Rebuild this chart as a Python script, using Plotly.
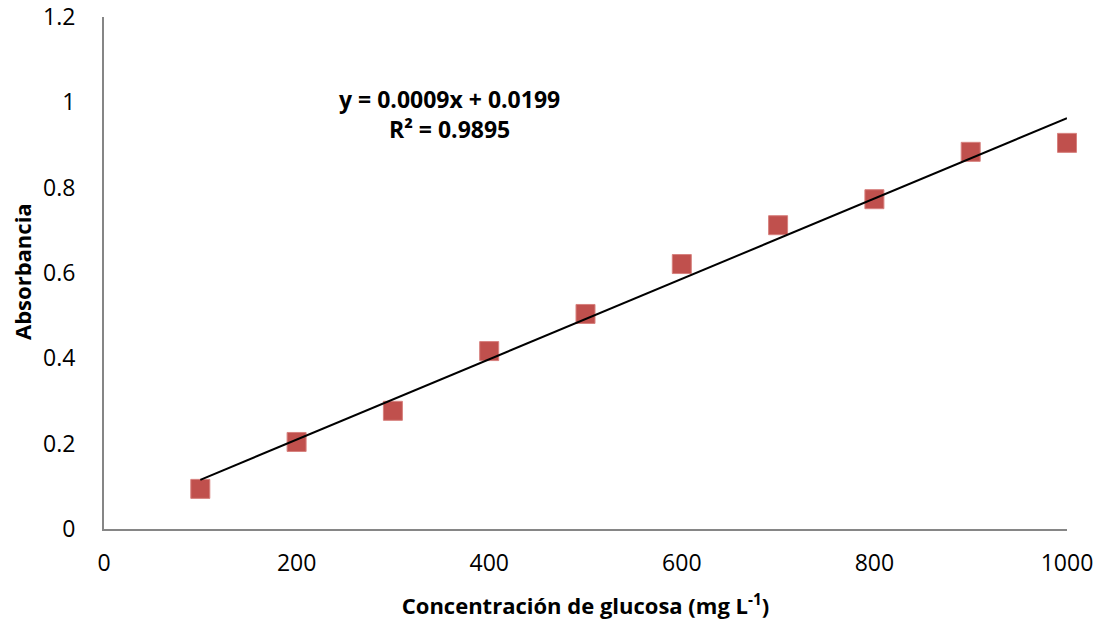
import numpy as np
import plotly.graph_objects as go

concentracion = [100, 200, 300, 400, 500, 600, 700, 800, 900, 1000]
absorbancia = [0.094, 0.204, 0.277, 0.417, 0.504, 0.621, 0.712, 0.773, 0.884, 0.905]
x_ticks = [0, 200, 400, 600, 800, 1000]
y_ticks = [0, 0.2, 0.4, 0.6, 0.8, 1, 1.2]
y_tick_labels = ["0", "0.2", "0.4", "0.6", "0.8", "1", "1.2"]
eq_text = "y = 0.0009x + 0.0199<br>R² = 0.9895"
y_title = "Absorbancia"
x_title = "Concentración de glucosa (mg L<sup>-1</sup>)"

slope, intercept = np.polyfit(concentracion, absorbancia, 1)
fit_x = [concentracion[0], concentracion[-1]]
fit_y = [slope * v + intercept for v in fit_x]

FONT = "Open Sans"
PLOT_L, PLOT_R, PLOT_T, PLOT_B = 104, 1067, 17, 529

fig = go.Figure()
fig.add_trace(go.Scatter(
    x=concentracion, y=absorbancia, mode="markers",
    marker=dict(symbol="square", size=19, color="#C0504D",
                line=dict(color="#D7817E", width=1)),
    showlegend=False, cliponaxis=False))
fig.add_trace(go.Scatter(
    x=fit_x, y=fit_y, mode="lines",
    line=dict(color="black", width=2), showlegend=False))

fig.add_annotation(x=359, y=1 - (114 - PLOT_T) / (PLOT_B - PLOT_T), xref="x", yref="paper",
                   yanchor="middle", xanchor="center",
                   text=eq_text, showarrow=False, align="center",
                   font=dict(family=FONT, size=23, color="black", weight="bold"))

# y-axis title placed precisely
fig.add_annotation(x=(22 - PLOT_L) / (PLOT_R - PLOT_L), y=1 - (272 - PLOT_T) / (PLOT_B - PLOT_T),
                   xref="paper", yref="paper", xanchor="center", yanchor="middle",
                   text=y_title, textangle=-90, showarrow=False,
                   font=dict(family=FONT, size=22, color="black", weight="bold"))

fig.update_layout(
    width=1103, height=624,
    margin=dict(l=PLOT_L, r=1103 - PLOT_R, t=PLOT_T, b=624 - PLOT_B, autoexpand=False),
    paper_bgcolor="white", plot_bgcolor="white",
    font=dict(family=FONT, size=23, color="black"),
)

fig.update_xaxes(range=[0, 1000], tickvals=x_ticks, showgrid=False, zeroline=False,
                 showline=True, linecolor="#868686", linewidth=2, ticks="",
                 ticklabelstandoff=12, tickfont=dict(size=23), automargin=False,
                 title=dict(text=x_title, font=dict(size=22, weight="bold"), standoff=22))
fig.update_yaxes(range=[0, 1.2], tickvals=y_ticks, ticktext=y_tick_labels,
                 showgrid=False, zeroline=False,
                 showline=True, linecolor="#868686", linewidth=2, ticks="",
                 ticklabelstandoff=22, tickfont=dict(size=23), automargin=False)

fig.write_html("out.html")
